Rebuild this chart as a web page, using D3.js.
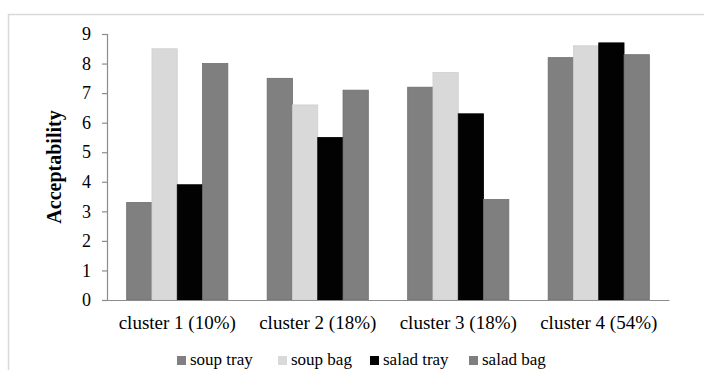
<!DOCTYPE html>
<html>
<head>
<meta charset="utf-8">
<script src="https://cdn.jsdelivr.net/npm/d3@7"></script>
<style>
  html, body { margin: 0; padding: 0; background: #fff; }
  svg { display: block; }
  text { font-family: "Liberation Serif", "Times New Roman", serif; fill: #000; }
</style>
</head>
<body>
<svg id="chart" width="704" height="370"></svg>
<script>
// Cluster categories and the four packaging options
const categories = ["cluster 1 (10%)", "cluster 2 (18%)", "cluster 3 (18%)", "cluster 4 (54%)"];
const seriesNames = ["soup tray", "soup bag", "salad tray", "salad bag"];
const soupTray  = [3.3, 7.5, 7.2, 8.2];
const soupBag   = [8.5, 6.6, 7.7, 8.6];
const saladTray = [3.9, 5.5, 6.3, 8.7];
const saladBag  = [8.0, 7.1, 3.4, 8.3];
const yTicks = [0, 1, 2, 3, 4, 5, 6, 7, 8, 9];

const seriesValues = [soupTray, soupBag, saladTray, saladBag];
const fills   = ["#808080", "#d9d9d9", "#020202", "#7f7f7f"];
const strokes = ["#6e6e6e", "#cfcfcf", "#000000", "#6e6e6e"];

const svg = d3.select("#chart");

// outer frame
svg.append("path")
  .attr("d", "M8.5,370 V14.5 H704")
  .attr("fill", "none")
  .attr("stroke", "#d9d9d9")
  .attr("stroke-width", 1.5);

const plot = { left: 107, right: 669, top: 34, bottom: 300 };

const x = d3.scaleBand()
  .domain(categories)
  .range([plot.left, plot.right])
  .paddingInner(0)
  .paddingOuter(0);

const groupFrac = 0.72;
const xInner = d3.scaleBand()
  .domain(seriesNames)
  .range([x.bandwidth() * (1 - groupFrac) / 2, x.bandwidth() * (1 + groupFrac) / 2]);

const y = d3.scaleLinear().domain([0, 9]).range([plot.bottom, plot.top]);

// bars
const rows = [];
categories.forEach((c, ci) => {
  seriesNames.forEach((s, si) => {
    rows.push({ cat: c, series: s, si, value: seriesValues[si][ci] });
  });
});

svg.append("g")
  .selectAll("rect")
  .data(rows)
  .join("rect")
  .attr("x", d => x(d.cat) + xInner(d.series))
  .attr("y", d => y(d.value))
  .attr("width", xInner.bandwidth())
  .attr("height", d => y(0) - y(d.value))
  .attr("fill", d => fills[d.si])
  .attr("stroke", d => strokes[d.si])
  .attr("stroke-width", 0.8);

// y axis
const yAxis = svg.append("g")
  .attr("transform", `translate(${plot.left},0)`)
  .call(d3.axisLeft(y).tickValues(yTicks).tickFormat(d3.format("d")).tickSize(5).tickPadding(11));
yAxis.select(".domain").attr("stroke", "#8c8c8c").attr("stroke-width", 1.2);
yAxis.selectAll(".tick line").attr("stroke", "#8c8c8c").attr("stroke-width", 1.2);
yAxis.selectAll(".tick text")
  .attr("font-size", 18)
  .attr("fill", "#000")
  .attr("font-family", "'Liberation Serif', 'Times New Roman', serif");

// x axis baseline and category labels
const xAxis = svg.append("g")
  .attr("transform", `translate(0,${plot.bottom})`)
  .call(d3.axisBottom(x).tickSize(0).tickPadding(0));
xAxis.select(".domain").attr("stroke", "#8c8c8c").attr("stroke-width", 1.2);
xAxis.selectAll(".tick text")
  .attr("y", 29)
  .attr("dy", 0)
  .attr("font-size", 19)
  .attr("fill", "#000")
  .attr("font-family", "'Liberation Serif', 'Times New Roman', serif");

// y axis title
svg.append("text")
  .attr("transform", `translate(61,${(plot.top + plot.bottom) / 2}) rotate(-90)`)
  .attr("text-anchor", "middle")
  .attr("font-size", 20)
  .attr("font-weight", "bold")
  .text("Acceptability");

// legend
const legendX = [177, 278, 370, 469];
const legend = svg.append("g");
seriesNames.forEach((s, i) => {
  const g = legend.append("g").attr("transform", `translate(${legendX[i]},0)`);
  g.append("rect")
    .attr("x", 0).attr("y", 356)
    .attr("width", 9).attr("height", 9)
    .attr("fill", fills[i]);
  g.append("text")
    .attr("x", 13).attr("y", 365)
    .attr("font-size", 17)
    .text(s);
});
</script>
</body>
</html>
